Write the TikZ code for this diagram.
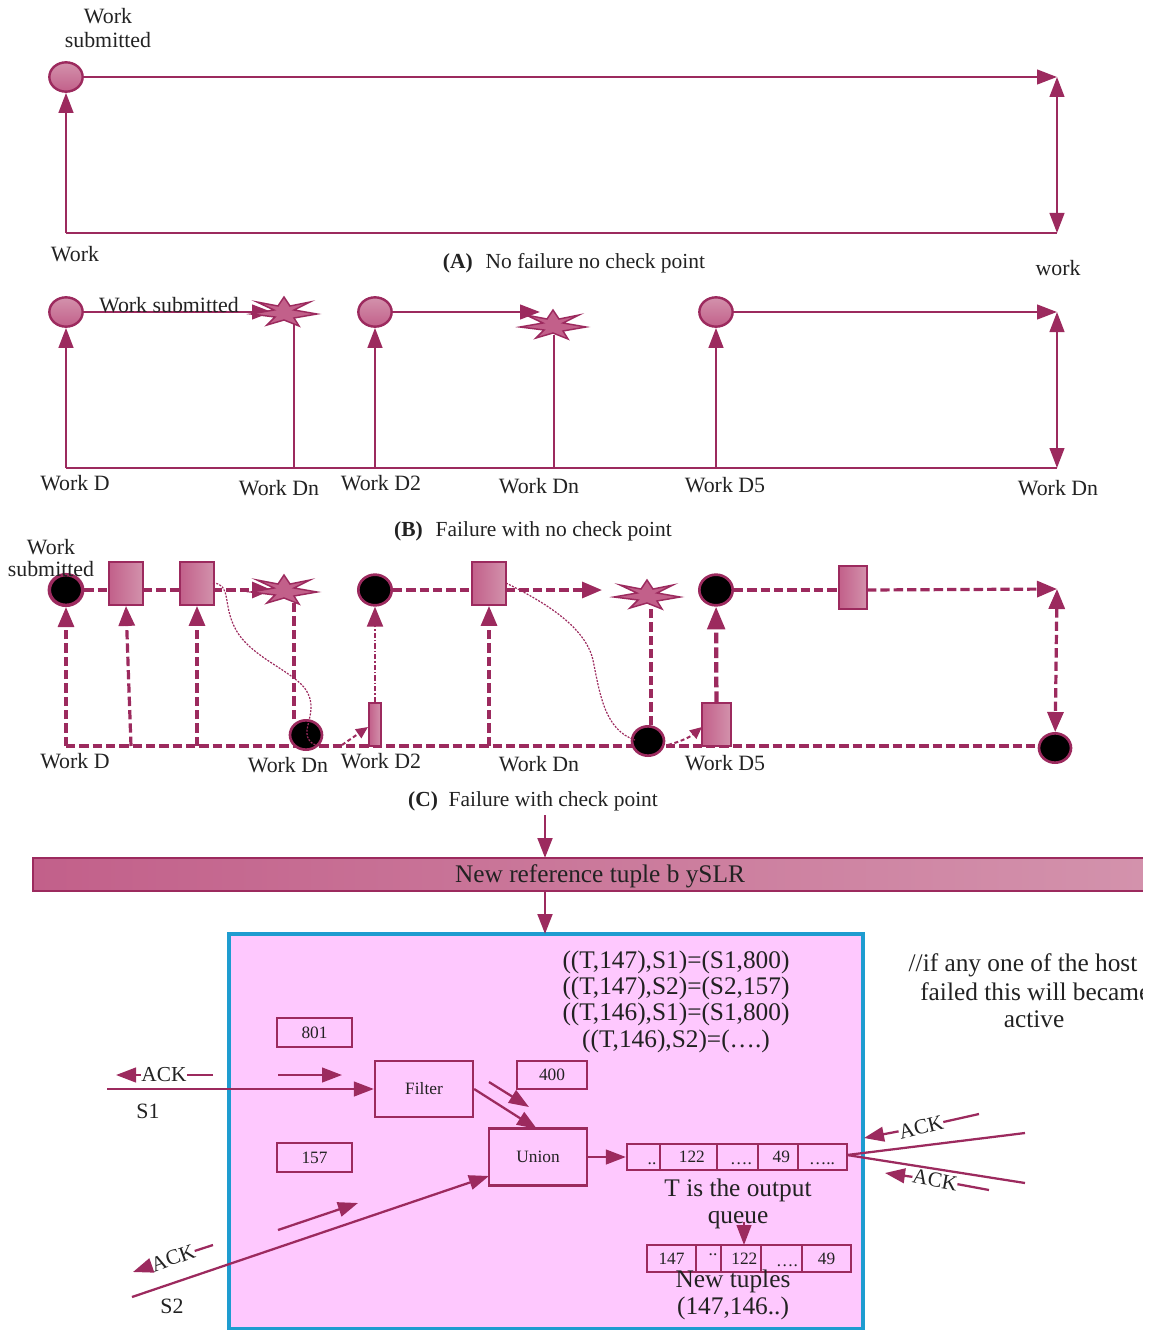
\documentclass[tikz,border=0pt]{standalone}
\usepackage{fontspec}
\setmainfont{Liberation Serif}
\usetikzlibrary{arrows.meta,shapes.geometric}
\definecolor{wine}{HTML}{9C2A5E}
\definecolor{rosea}{HTML}{C2608A}
\definecolor{roseb}{HTML}{D392AC}
\definecolor{pinkbg}{HTML}{FEC8FE}
\definecolor{cyanb}{HTML}{1E9CD0}
\definecolor{ink}{HTML}{222222}
\newcommand{\fs}[1]{\fontsize{#1}{#1}\selectfont}
\newcommand{\burst}[2]{\draw[burststyle,shift={(#1,#2)}] (0,-15)--(6,-6)--(26,-10)--(10,-2)--(33,2)--(10,6)--(15,14)--(0,8)--(-17,13)--(-9,5)--(-33,2)--(-10,-2)--(-27,-10)--(-6,-6)--cycle;}
\tikzset{
  x=0.75pt,y=-0.75pt,
  burststyle/.style={draw=wine,line width=1.1pt,fill=rosea},
  lab/.style={text=ink,font=\fs{16.4},inner sep=0pt,align=center},
  captxt/.style={text=ink,font=\fs{16.1},inner sep=0pt},
  bigtxt/.style={text=ink,font=\fs{19},inner sep=0pt,align=center},
  acktxt/.style={text=ink,font=\fs{16},inner sep=0pt},
  ln/.style={draw=wine,line width=1.7pt},
  atip/.style={-{Triangle[length=15pt,width=11pt]}},
  atips/.style={{Triangle[length=15pt,width=11pt]}-{Triangle[length=15pt,width=11pt]}},
  bigtip/.style={-{Triangle[length=15pt,width=12pt]}},
  bigtips/.style={{Triangle[length=15pt,width=12pt]}-{Triangle[length=15pt,width=12pt]}},
  dsh/.style={draw=wine,line width=2.4pt,dash pattern=on 7pt off 3pt},
  thindsh/.style={draw=wine,line width=1.6pt,dash pattern=on 4pt off 1.5pt on 1pt off 1.5pt},
  dotc/.style={draw=wine,line width=0.9pt,dash pattern=on 1.5pt off 1pt},
  smalldsh/.style={draw=wine,line width=1.5pt,dash pattern=on 3pt off 2pt,-{Triangle[length=9pt,width=8pt]}},
  shade circ/.style={ellipse,draw=wine,line width=1.8pt,top color=roseb,bottom color=rosea,minimum width=25pt,minimum height=22pt,inner sep=0pt},
  black circ/.style={ellipse,draw=wine,line width=2pt,fill=black,minimum width=25pt,minimum height=23pt,inner sep=0pt},
  chk/.style 2 args={rectangle,draw=wine,line width=1.4pt,left color=rosea,right color=roseb,minimum width=#1*0.75pt,minimum height=#2*0.75pt,inner sep=0pt},
  cell/.style 2 args={rectangle,draw=wine,line width=1.7pt,minimum width=#1*0.75pt,minimum height=#2*0.75pt,inner sep=0pt,text=ink,font=\fs{13},text height=8.6pt,text depth=0pt},
  dots/.style={text=ink,font=\fs{13},inner sep=0pt,anchor=base},
}
\begin{document}
\begin{tikzpicture}
\useasboundingbox (0,0) rectangle (1153,1330);

% ---------- Panel A
\node[shade circ] (aS) at (66,77) {};
\coordinate (aBL) at (66,233);
\coordinate (aBR) at (1057,233);
\coordinate (aTR) at (1057,77);
\draw[ln,atip] (aS) -- (aTR);
\draw[ln,atip] (aBL) -- (aS);
\draw[ln] (aBL) -- (aBR);
\draw[ln,atips] (aTR) -- (aBR);
\node[lab] (aL1) at (108,28) {Work\\[1pt]submitted};
\node[lab] (aL2) at (75,254) {Work};
\node[lab] (aL3) at (1058,268) {work};
\node[captxt] (aCap) at (574,263) {\textbf{(A)}\hspace{0.6em}No failure no check point};

% ---------- Panel B
\node[shade circ] (b1) at (66,312) {};
\node[shade circ] (b2) at (375,312) {};
\node[shade circ] (b3) at (716,312) {};
\coordinate (bBL) at (66,468);
\coordinate (bBR) at (1057,468);
\coordinate (bTR) at (1057,312);
\coordinate (bF1) at (294,468);
\coordinate (bF2) at (375,468);
\coordinate (bF3) at (554,468);
\coordinate (bF4) at (716,468);
\coordinate (bS1) at (294,322);
\coordinate (bS2) at (554,335);
\coordinate (bT1) at (272,312);
\coordinate (bT2) at (540,312);
\draw[ln] (bBL) -- (bBR);
\draw[ln,atip] (bBL) -- (b1);
\draw[ln,atip] (bF2) -- (b2);
\draw[ln,atip] (bF4) -- (b3);
\draw[ln] (bF1) -- (bS1);
\draw[ln] (bF3) -- (bS2);
\draw[ln,atip] (b1) -- (bT1);
\draw[ln,atip] (b2) -- (bT2);
\draw[ln,atip] (b3) -- (bTR);
\draw[ln,atips] (bTR) -- (bBR);
\burst{284}{312}
\burst{553}{325}
\node[lab] (bL0) at (169,305) {Work submitted};
\node[lab] (bL1) at (75,483) {Work D};
\node[lab] (bL2) at (279,488) {Work Dn};
\node[lab] (bL3) at (381,483) {Work D2};
\node[lab] (bL4) at (539,486) {Work Dn};
\node[lab] (bL5) at (725,485) {Work D5};
\node[lab] (bL6) at (1058,488) {Work Dn};
\node[captxt] (bCap) at (533,531) {\textbf{(B)}\hspace{0.6em}Failure with no check point};

% ---------- Panel C
\coordinate (cBL) at (66,746);
\coordinate (cBR) at (1040,746);
\coordinate (cF1) at (131,746);
\coordinate (cF2) at (197,746);
\coordinate (cF3) at (489,746);
\coordinate (cTR) at (1057,589);
\coordinate (cT1) at (272,590);
\coordinate (cT2) at (602,590);
\coordinate (cS1) at (294,600);
\coordinate (cS2) at (651,604);
\draw[dsh] (cBL) -- (cBR);
\node[black circ,line width=2.6pt] (c1) at (66,590) {};
\node[black circ] (c2) at (375,590) {};
\node[black circ] (c3) at (716,590) {};
\node[black circ,minimum width=24pt,minimum height=22pt] (d1) at (306,735) {};
\node[black circ,minimum width=24pt,minimum height=22pt] (d2) at (648,741) {};
\node[black circ,minimum width=24pt,minimum height=22pt] (d3) at (1055,748) {};
\node[chk={34}{43}] (r1) at (126,583.5) {};
\node[chk={34}{43}] (r2) at (197,583.5) {};
\node[chk={34}{43}] (r3) at (489,583.5) {};
\node[chk={28}{43}] (r4) at (853,587.5) {};
\node[chk={12}{43}] (r5) at (375,724.5) {};
\node[chk={29}{43}] (r6) at (716.5,724.5) {};
\coordinate (r1o) at (143,590);
\coordinate (r1i) at (109,590);
\coordinate (r2o) at (213,590);
\coordinate (r2i) at (180,590);
\coordinate (r3o) at (506,590);
\coordinate (r3i) at (472,590);
\coordinate (r4i) at (839,590);
\coordinate (r4o) at (867,590);
\draw[dsh] (c1) -- (r1i);
\draw[dsh] (r1o) -- (r2i);
\draw[dsh,bigtip] (r2o) -- (cT1);
\draw[dsh] (c2) -- (r3i);
\draw[dsh,bigtip] (r3o) -- (cT2);
\draw[dsh] (c3) -- (r4i);
\draw[dsh,bigtip] (r4o) -- (cTR);
\draw[dsh,bigtip] (cBL) -- (c1);
\draw[dsh,bigtip] (cF1) -- (r1.south);
\draw[dsh,bigtip] (cF2) -- (r2.south);
\draw[dsh,bigtip] (cF3) -- (r3.south);
\draw[dsh] (d1.north -| cS1) -- (cS1);
\draw[dsh] (d2.north -| cS2) -- (cS2);
\draw[thindsh,bigtip] (r5) -- (c2);
\draw[draw=wine,line width=3.2pt,dash pattern=on 8pt off 3pt,-{Triangle[length=17pt,width=13pt]}] (r6) -- (c3);
\draw[dsh,bigtips] (cTR) -- (d3);
\burst{284}{590}
\burst{647}{595}
\coordinate (e1) at (368,727);
\coordinate (e2) at (702,727);
\coordinate (f1) at (342,745);
\coordinate (f2) at (668,745);
\coordinate (g1) at (213,583);
\coordinate (g2) at (506,583);
\coordinate (h1) at (320,746);
\coordinate (h2) at (635,740);
\draw[smalldsh] (f1) -- (e1);
\draw[smalldsh] (f2) to[bend right=12] (e2);
\draw[dotc] (g1) .. controls (232,584) and (222,605) .. (236,630) .. controls (250,655) and (285,668) .. (302,685) .. controls (318,702) and (308,720) .. (307,730) .. controls (306,740) and (312,745) .. (h1);
\draw[dotc] (g2) .. controls (540,600) and (585,625) .. (593,660) .. controls (600,695) and (605,730) .. (h2);
\node[lab] (cL0) at (51,558) {Work\\[0pt]submitted};
\node[lab] (cL1) at (75,761) {Work D};
\node[lab] (cL2) at (288,765) {Work Dn};
\node[lab] (cL3) at (381,761) {Work D2};
\node[lab] (cL4) at (539,764) {Work Dn};
\node[lab] (cL5) at (725,763) {Work D5};
\node[captxt] (cCap) at (533,801) {\textbf{(C)}\hspace{0.5em}Failure with check point};

% ---------- Banner
\coordinate (bnTop) at (545,815);
\coordinate (bnA) at (545,858);
\coordinate (bnB) at (545,891);
\shade[left color=rosea,right color=roseb] (33,858) rectangle (1143,891);
\draw[ln] (1143,858) -- (33,858) -- (33,891) -- (1143,891);
\node[lab,font=\fs{19}] (bnT) at (600,876) {New reference tuple b ySLR};
\draw[ln,atip,line width=2.2pt] (bnTop) -- (bnA);

% ---------- Pink box
\node[rectangle,draw=cyanb,line width=2.6pt,fill=pinkbg,minimum width=634*0.75pt,minimum height=395*0.75pt,inner sep=0pt] (box) at (546,1131.5) {};
\coordinate (boxN) at (545,934);
\draw[ln,atip,line width=2.2pt] (bnB) -- (boxN);

\node[bigtxt] (f1t) at (676,962) {((T,147),S1)=(S1,800)};
\node[bigtxt] (f2t) at (676,988) {((T,147),S2)=(S2,157)};
\node[bigtxt] (f3t) at (676,1014) {((T,146),S1)=(S1,800)};
\node[bigtxt] (f4t) at (676,1041) {((T,146),S2)=(….)};

\node[cell={75}{29}] (n801) at (314.5,1032.5) {801};
\node[cell={70}{28}] (n400) at (552,1075) {400};
\node[cell={75}{29}] (n157) at (314.5,1157.5) {157};
\node[cell={98}{56}] (filter) at (424,1089) {Filter};
\node[cell={98}{57}] (union) at (538,1157) {Union};

% S1 side
\coordinate (s1a) at (107,1089);
\coordinate (ua) at (537,1129);
\node[acktxt] (ack1) at (164,1075) {ACK};
\coordinate (ack1r) at (213,1075);
\coordinate (ack1l) at (116,1075);
\draw[ln] (ack1r) -- (ack1);
\draw[ln,atip] (ack1) -- (ack1l);
\coordinate (p1a) at (278,1075);
\coordinate (p1b) at (342,1075);
\draw[ln,atip] (p1a) -- (p1b);
\draw[ln,atip] (s1a) -- (filter);
\node[lab] (s1t) at (148,1111) {S1};
\draw[ln,atip] (filter.east) -- (ua);
\coordinate (p2a) at (489,1082);
\coordinate (p2b) at (529,1107);
\draw[ln,atip] (p2a) -- (p2b);

% S2 side
\coordinate (s2a) at (132,1297);
\coordinate (ub) at (489,1176);
\draw[ln,atip] (s2a) -- (ub);
\coordinate (p3a) at (278,1230);
\coordinate (p3b) at (358,1203);
\draw[ln,atip] (p3a) -- (p3b);
\node[acktxt,rotate=20] (ack2) at (173,1258) {ACK};
\coordinate (ack2r) at (213,1245);
\coordinate (ack2l) at (133,1272);
\draw[ln] (ack2r) -- (ack2);
\draw[ln,atip] (ack2) -- (ack2l);
\node[lab] (s2t) at (172,1306) {S2};

% Queue T
\node[cell={33}{26}] (q1) at (643.5,1157) {};
\node[cell={57}{26}] (q2) at (688.5,1157) {\hspace{5pt}122};
\node[cell={41}{26}] (q3) at (737.5,1157) {};
\node[cell={40}{26}] (q4) at (778,1157) {\hspace{5pt}49};
\node[cell={49}{26}] (q5) at (822.5,1157) {};
\node[dots] (q1t) at (652,1164) {..};
\node[dots] (q3t) at (741,1164) {….};
\node[dots] (q5t) at (822,1164) {…..};
\draw[ln,atip] (union) -- (q1);
\node[bigtxt] (tq) at (738,1204) {T is the output\\[1pt]queue};
\coordinate (qa) at (744,1222);

% Queue New
\node[cell={49}{27}] (w1) at (671.5,1258.5) {147};
\node[cell={25}{27}] (w2) at (708.5,1258.5) {};
\node[cell={40}{27}] (w3) at (741,1258.5) {\hspace{5pt}122};
\node[cell={41}{27}] (w4) at (781.5,1258.5) {};
\node[cell={49}{27}] (w5) at (826.5,1258.5) {49};
\node[dots] (w2t) at (713,1255) {..};
\node[dots] (w4t) at (787,1266) {….};
\coordinate (qb) at (744,1245);
\draw[ln,atip] (qa) -- (qb);
\node[bigtxt] (nt) at (733,1295) {New tuples\\[1pt](147,146..)};

% Right side
\coordinate (ra) at (847,1155);
\coordinate (rb) at (1025,1133);
\coordinate (rc) at (1025,1183);
\draw[ln] (ra) -- (rb);
\draw[ln] (ra) -- (rc);
\node[acktxt,rotate=14] (ack3) at (921,1127) {ACK};
\coordinate (ack3r) at (979,1114);
\coordinate (ack3l) at (864,1138);
\draw[ln] (ack3r) -- (ack3);
\draw[ln,atip] (ack3) -- (ack3l);
\node[acktxt,rotate=-10] (ack4) at (935,1180) {ACK};
\coordinate (ack4r) at (989,1190);
\coordinate (ack4l) at (885,1173);
\draw[ln] (ack4r) -- (ack4);
\draw[ln,atip] (ack4) -- (ack4l);

% Comment
\node[bigtxt] (cm1) at (1023,965) {//if any one of the host};
\node[bigtxt,anchor=west] (cm2) at (920,992) {failed this will became};
\node[bigtxt] (cm3) at (1034,1019) {active};
\fill[white] (1143,850) rectangle (1153,1040);
\end{tikzpicture}
\end{document}
